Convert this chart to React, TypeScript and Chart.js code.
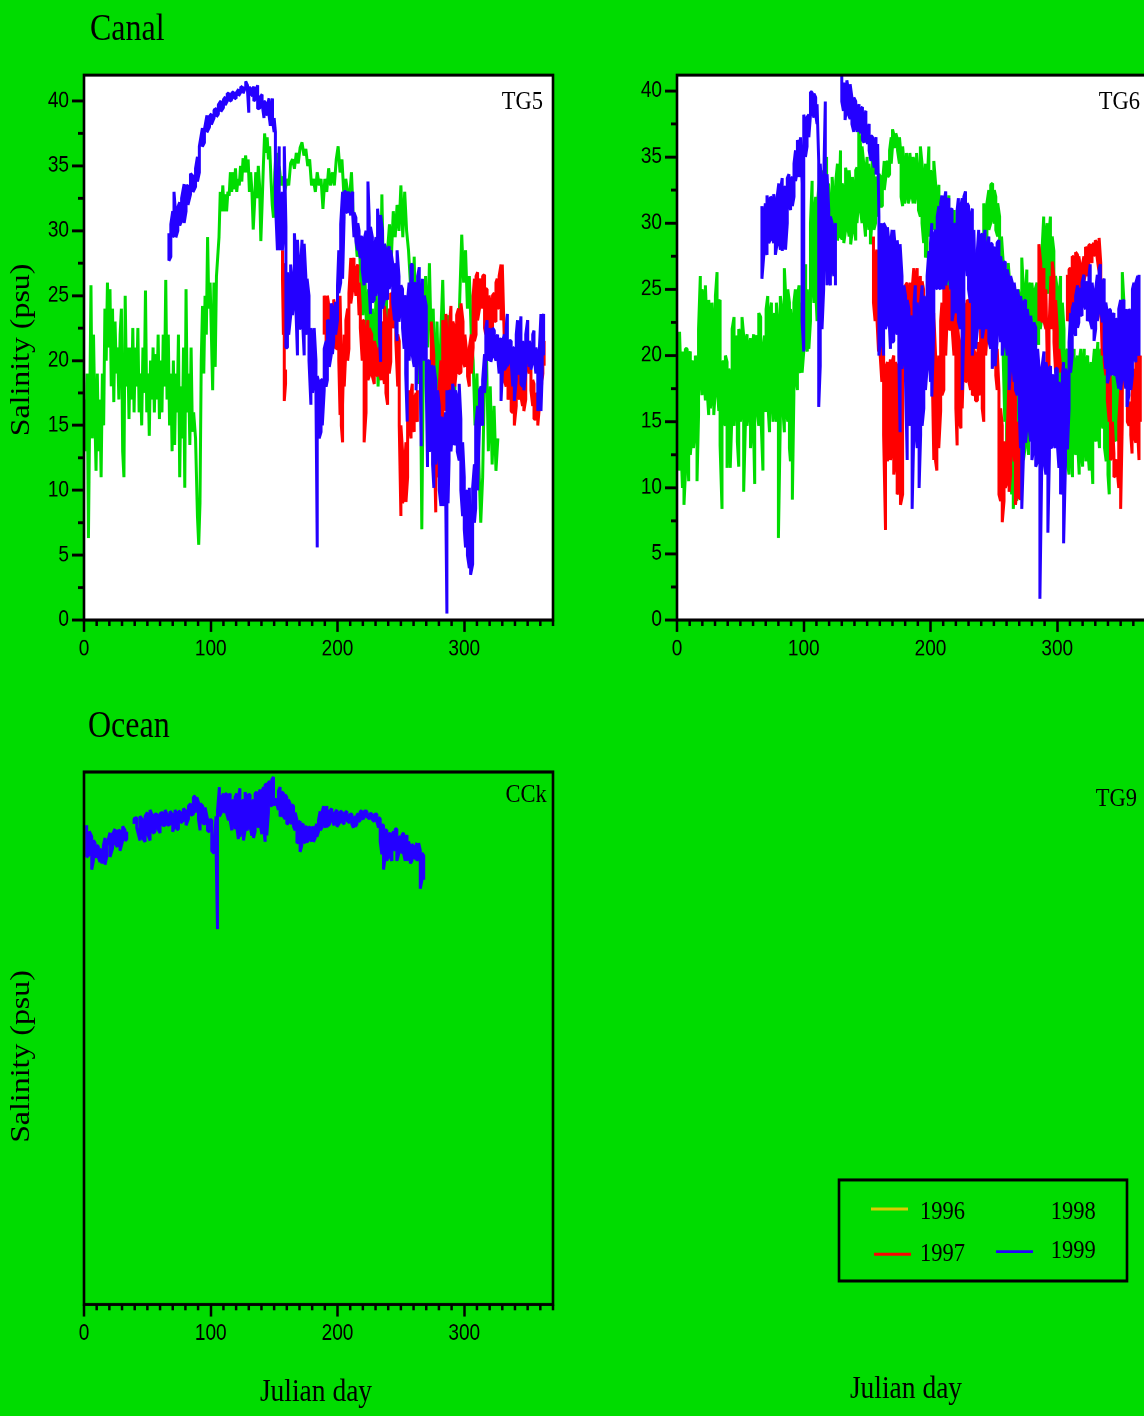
import React, { useEffect, useRef } from 'react';
import { Chart, registerables } from 'chart.js';

Chart.register(...registerables);

// whole figure is stretched vertically in the reference
const SY = 1.16;
const PAGE_GREEN = '#00dc00';
const C1996 = '#dccc00';
const C1997 = '#ff0000';
const C1998 = '#00dc00';
const C1999 = '#2400ff';

// axes
const xTickValues = [0, 100, 200, 300];
const yTickValues = [0, 5, 10, 15, 20, 25, 30, 35, 40];
const yMinorValues = [2.5, 7.5, 12.5, 17.5, 22.5, 27.5, 32.5, 37.5];
const xMax = 370;
const tg5YMax = 42;
const tg6YMax = 41.2;
const cckYMax = 42;

// legend
const legendYears = ['1996', '1997', '1998', '1999'];

// ---------- TG5 ----------
const tg5Days1998 = [
  0.5,1.5,2.5,3.5,4.5,5.5,6.5,7.5,8.5,9.5,10.5,11.5,12.5,13.5,14.5,15.5,16.5,17.5,18.5,19.5,
  20.5,21.5,22.5,23.5,24.5,25.5,26.5,27.5,28.5,29.5,30.5,31.5,32.5,33.5,34.5,35.5,36.5,37.5,38.5,39.5,
  40.5,41.5,42.5,43.5,44.5,45.5,46.5,47.5,48.5,49.5,50.5,51.5,52.5,53.5,54.5,55.5,56.5,57.5,58.5,59.5,
  60.5,61.5,62.5,63.5,64.5,65.5,66.5,67.5,68.5,69.5,70.5,71.5,72.5,73.5,74.5,75.5,76.5,77.5,78.5,79.5,
  80.5,81.5,82.5,83.5,84.5,85.5,86.5,
  88,89.5,90.5,91.5,92.5,93.5,94.5,95.5,96.5,97.5,98.5,99.5,100.5,101.5,102.5,103.5,104.5,105.5,106.5,107.5,
  108.5,109.5,110.5,111.5,112.5,113.5,114.5,115.5,116.5,117.5,118.5,119.5,120.5,121.5,122.5,123.5,124.5,125.5,126.5,127.5,
  128.5,129.5,130.5,131.5,132.5,133.5,134.5,135.5,136.5,137.5,138.5,139.5,140.5,141.5,142.5,143.5,144.5,145.5,146.5,147.5,
  148.5,149.5,150.5,151.5,152.5,154,155.5,157,158.5,160,161.5,163,164.5,166,167.5,169,170.5,172,173.5,175,
  176.5,178,179.5,181,182.5,184,185.5,187,188.5,190,191.5,193,194.5,196,197.5,199,200.5,202,203.5,205,
  206.5,208,209.5,211,212.5,214,215.5,217,218.5,220,221.5,223,224.5,226,227.5,229,230.5,232,233.5,235,
  236.5,238,239.5,241,242.5,244,245.5,247,248.5,250,251.5,253,254.5,256,257.5,259,260.5,262,263.5,265,
  266.5,268,269.5,271,272.5,274,275.5,277,278.5,280,281.5,283,284.5,286,287.5,289,290.5,292,293.5,295,
  296.5,298,299.5,301,302.5,304,305.5,307,308.5,310,311.5,313,314.5,316,317.5,319,320.5,322,323.5,325,
  326.5,
];
const tg5Sal1998 = [
  17,13,19,6.3,16,25.8,14,22,16,11.5,19,13,17,11,19,15,24,20,26,21,
  25.5,18,24,16.8,23,19,21,17,22,24,13,11,25,18,21,15.5,21,17,22.5,16,
  21,18,22.5,16,19,15,21,17.5,25.4,16,19,14.2,20,17,21,16,20.5,17,22,15.5,
  20,16,22,18,26.2,17,22,15,19,13,20,13.5,19,16,22,11,18,14,21,10.2,
  25.5,16,19,13.5,21,14.5,16,
  14,8,5.8,9,20,24.2,19,25,22,29.5,24,26,22,17.7,26,19.5,26.5,28,29.5,33,
  31.5,33.5,31.5,32.8,31.5,33,32.7,34.5,33,34.5,33.2,34.8,33,34,33.5,35,33.8,35.6,34.5,35.8,
  34.5,35.5,33,34.5,33,30.1,32,34.5,32.5,35,33.5,29.2,32,35,37.5,36,37.2,35.5,36.5,34,
  32,31,34.5,36,33,35,33.5,34.2,33,34,33.5,35.2,35.5,34.8,36,35.2,36.4,36.8,35.8,36.3,
  35,35.5,33.5,34,33,34.5,33.5,34,31.7,34,33,34.8,33.5,34.5,33.5,35.5,36.5,34.5,35.5,32.8,
  34,33,32.5,34.5,31,30,28,29.5,26,23.5,27,22,25.5,18.8,24,20,25.5,18,22,32.8,
  25,21,28.5,30.5,28,31.5,29.5,32,30,33.5,29.5,33,30,28.5,26,22,28,20,18.2,24,
  7,23,26.5,21,27.5,21,24,17,23,16.5,22,26.2,20,16.5,23.5,18,21,15,22,20,
  25,29.7,26,28.5,24,26.5,22,20,15,19,12,7.5,11,19,20.5,13,18,12,16.5,11.5,
  14,
];

const tg5Days1999 = [
  67,68.5,70,71,72.5,74,75.5,77,79,80.5,82,84,86,88,89.5,91,93.4,95,97,99,
  100.5,102.6,104.5,106,108,110,111.5,113,115,116.5,118,120,122,123.7,125.5,127.6,129,130,131.5,133,
  134,135.5,137,139,140.5,142,143.5,145,146,147,148.7,150,151,152.6,154,155,156.5,158,159.3,160.5,
  161.5,163,164.5,166,167,168.4,170,171,172,173.7,175,176,177.5,179,180.3,181.6,183,184,185.5,187,
  188,189.5,191,192,193.5,195,196,197,198.5,200,201,202.5,204,205.2,206.6,208,209,210.5,212,213,
  214.5,216,217,218,219.5,221,222.5,224,225,226,227.5,229,230.3,231.6,233,234,235.5,237,238.2,239.5,
  240.8,242,243.5,245,246,247,248.5,250,251.3,252.6,253.8,255,256.5,258,259,260.5,262,263.2,264.5,266,
  267,268.5,270,271,272.5,274,275,276,277.5,279,280.3,281.6,283,284,285.3,286.3,287.2,288,289.5,290.8,
  292,293,294.5,296,297.3,298.7,300,301,302.5,304,305,306.6,308,309,310.5,312,313.3,314.5,316,317,
  318,319.5,321,322.3,323.7,325,326.3,327.5,329,330.3,331.6,333,334,335.5,337,338.3,339.5,341,342,343.5,
  344.7,346,347,348.5,350,351.3,352.6,354,355,356.5,358,359.3,360.5,361.5,362.6,
];
const tg5High1999 = [
  29.8,30.5,31.5,33.0,31,31.8,32.2,32.5,33.6,33.4,33.5,34.4,34.2,34.8,35.7,36.5,37.9,37.8,38.9,38.8,
  39.0,39.3,39.4,39.7,40.0,40.1,40.3,40.6,40.5,40.6,40.7,40.6,40.9,41.1,41.0,41.5,41.2,41.0,41.0,40.9,
  41.1,40.8,41.2,40.3,40.5,40.0,39.8,39.8,40.2,38.9,40.2,38.7,37.6,32.2,36.5,31.2,33,36.5,30.3,26.8,
  25.5,27.4,26,29.8,28,29.3,26,27.4,29.3,29.0,26.5,26.3,25,22.5,21.5,22.5,20,18.8,18.2,18.5,
  18.5,20.9,21.5,23.1,23,24.4,24,23.6,24.5,25.8,28.5,30.5,33.0,33.0,33.0,32.8,33.0,32.6,33.0,31.4,
  31,30.6,30,29.5,29.5,29.3,30,33.8,31,30.3,29.5,28.5,29.5,31.7,30,31.2,30,29.0,28.5,28.5,
  28.8,28.5,27.5,26.8,27.5,28.5,26.5,25.8,25.5,24.7,25,24.4,26,27.4,27.4,26,25.8,26.5,27.2,23.1,
  26.3,25,24.2,19.9,20,19.6,19.5,19.6,18.5,17.7,16.5,15.6,15.5,15.0,16,17.7,15,17.7,17.5,18.2,
  17.5,17.7,17,18.2,15.5,13.7,11,9.6,10,10.2,4.3,10.2,12,15.0,16.5,17.7,18,18.5,20.5,22.5,
  23.1,22.5,22.0,22.5,22.3,21.5,22,21.5,21.7,21.5,22.0,22.5,23.6,21.5,21.5,21,20.9,22,23.1,22,
  23.4,21.5,20.9,22,23.1,21.5,20.9,22,22.3,21,20.4,21,23.6,23,23.6,
];
const tg5Low1999 = [
  27.7,28,29.5,29.8,29.5,30,30.4,30.8,30.6,31.5,32,32.8,33,33.4,33.8,34.5,36.5,36.8,37.6,38,
  38.2,38.7,38.8,39,39.2,39.5,39.7,40.0,40.0,40.1,40.3,40.2,40.4,40.7,40.6,41.1,40.8,39.1,40.6,40.4,
  40.0,40.2,39.4,39.5,39.8,38.7,38.9,39.2,38.9,38.1,38.5,37.6,32.2,28.5,30.6,28.5,28.5,30.3,21.0,21.0,
  22,23.4,23.5,25.2,24.5,20.4,22.5,22.5,24,20.4,22,22.5,20,16.6,17.5,18.5,17.2,5.6,14,14.5,
  15.0,17.7,18,18.5,19.5,20.4,20.5,21.5,22,23.1,25.2,26,26.3,31,31.4,31.5,31.7,31.2,31.2,29.5,
  29.2,28.5,28.5,27.9,27,25.8,26,26.8,25.5,23.6,24.5,24.7,25,25.8,22,19.9,24,24.7,25,24.7,
  25.5,26.3,24.5,23.1,22.5,21.5,23,24.2,22.5,20.9,19,15.3,20,23.1,20.4,19.5,17.7,21,24.4,13.4,
  23.1,20,18.2,11.8,13,13.4,12,10.2,12,13.4,10,8.8,9.5,8.8,10,0.5,9,12.3,13,14.8,
  13.5,13.7,13,12.3,10,8.0,7,5.6,5,4.0,3.5,4.3,7.5,8.6,10,15.0,15.5,15.0,17.5,18.8,
  20.9,20,19.9,20.5,20.4,20,20.4,19,16.9,19.5,19.3,19.5,19.6,20,19.9,18,16.9,18.5,19.1,19,
  18.2,18,17.7,19,20.4,19.5,19.3,20,20.4,19,16.1,17,16.1,19,20.4,
];

const tg5Days1997 = [
  156.6,157.3,158,159,175,189.5,191,192,193.5,195,196,197,198.5,200,201,202,203,204,205.3,206.6,
  208,209,210.5,212,213,214.5,216,217,218,219.5,221,222.5,224,225,227,229,230.3,231.6,233,234.5,
  236,237,238.2,239.5,240.8,242,243.5,245,246,247.5,248.7,250,251.3,252.6,254,255.3,256.6,258,259,260.5,
  262,263,268,274,276,277.5,278.5,280,281.5,283,284.3,285.5,287,288.5,289.5,291,292.5,294,295.5,297.4,
  299,300.5,302.6,304,305.5,307,308,309.3,310.5,312,313,314.5,316,317,318,319.5,321,322.3,323.7,325,
  326,327.5,329,330,331.6,333,334.5,336,337,338.3,339.5,341,342,343.5,344.7,346,347,348.5,350,351.3,
  352.6,354,355,356.5,358,359.3,360.5,362,363,
];
const tg5High1997 = [
  28.5,27.5,26.3,19.3,null,25.0,24,25.0,24,23.1,24,24.7,24,25.0,24.5,25.0,20,16.6,22,23.1,
  24,25.2,27.9,27.5,27.9,27,27.4,26,24.2,23,23.1,22,23.1,22.5,22,21.5,21,20.4,21,22,
  23,24.2,23,22.0,24,25.2,25,25.2,24.7,22,21.5,15.0,13,11.2,13.7,15.5,17.7,17.5,18.2,17,
  17.5,17.7,null,23,20.4,10.2,16,17.7,20,23.1,22,23.6,21,23,24.2,23,22.5,23.5,24,24.4,
  23,22,19.9,21,22,25,26.3,26.5,26.8,26,26.3,26.5,26.6,25.5,25.5,25,24.2,25,25.2,26,
  26.3,26.5,27.4,27.4,21.5,21,20.5,21,20.4,18,16.9,19,20.4,20,19.9,19,18.2,20,23.1,21.5,
  19.9,18.5,18.2,17.5,17.2,18.5,20.4,21,21.5,
];
const tg5Low1997 = [
  26.3,22,16.9,18.2,null,22.0,21.5,21.5,21,20.9,22,22.5,21,20.9,20,15.8,15,13.7,18,20.9,
  20,20.9,24.4,25.5,26.3,25,26,23.5,22.5,20,13.7,16,18.5,18.8,19,18.2,19,18.8,19,18.5,
  19,18.2,17.5,16.6,19,19.9,22.5,23.1,21.5,18,15.0,8.0,9,9.6,9.1,11,15.0,14,15.0,14.5,
  15.5,15.3,null,17,15.0,8.3,11,12.3,15,15.0,17,16.1,17.5,19,17.7,18.5,18,19.5,19,19.1,
  20,19.5,18.8,18,19,21,21.5,22,23.1,24,25.2,24,22.5,22,21.5,21,20.4,22,23.1,23,
  24.2,24,23.1,25,18.5,18,17,17.5,16.1,16,15.0,16.5,17.7,17,17.2,16.5,16.1,17,19.6,19,
  17.7,16.5,15.5,15.5,15.0,16.5,17.7,19,19.6,
];

// ---------- TG6 ----------
const tg6Days1998 = [
  1.0,2.0,3.2,4.3,5.5,6.6,8,9.2,10.5,11.8,13,14.5,15.8,17,18.4,19.7,21,22.4,23.7,25,
  26.3,27.6,29,30.3,31.6,33,34,35.5,37,38.2,39.5,40.8,42,43.5,45,46.3,47.6,48.7,50,51.3,
  52.6,54,55.3,56.6,58,59.2,60.5,61.3,63,64.5,66,67.8,69,70.3,71.6,73,74.5,75.8,77,78.4,
  80,81.5,82.8,84.7,86,87.4,88.7,89.5,91,92.2,93.4,95,96.3,97.5,98.7,100,101.5,102.8,104,105.3,
  106.6,108,109.4,110.5,112,113.4,115,116.5,118,119.5,121,122.4,124,125.3,126.6,128,129,130.3,131.6,133,
  134.3,135.8,137,138.4,139.7,141,142,143.4,144.7,146,147.3,148.7,150,151.3,152.6,154,155.3,156.6,158,159.3,
  160.6,162,163.5,165,166.3,167.7,169,170,171.3,172.6,174,175.5,176.8,178,179.5,181,182.4,183.7,185,186.3,
  187.6,189,190.5,192,193.3,194.6,196,197.3,198.7,200,201.3,202.6,204,205.3,206.6,208,209.2,210.5,212,213.3,
  214.5,216,217.3,218.5,220,221.3,232,242,243.5,244.5,246,247.5,249,250.3,251.5,253,254.5,256,257.3,258.6,
  260,261.3,262.6,264,265.3,266.6,268,269.3,270.6,272,273.3,274.6,276,277.3,278.6,280,281.3,282.6,284,285.3,
  286.6,288,289.3,290.6,292,293.3,294.6,296,297.3,298.6,300,301.3,302.6,304,305.3,306.6,308,309.3,310.6,312,
  313.3,314.6,316,317.3,318.6,320,321.3,322.6,324,325.3,326.6,328,329.3,330.6,332,333.3,334.6,336,337.3,338.6,
  340,341,342.3,343.6,345,346.3,347.6,349,350.3,351.3,352.6,
];
const tg6High1998 = [
  18.2,21.8,18,20.3,19,20.5,20.5,20,20.3,19.5,19.5,20,18.5,22,26,25,24.5,25.3,22,24.2,
  22.5,24,22,24.5,26.3,24,24.2,19.5,19.5,20,19.5,19,18.5,22,22.9,21.5,20.5,22,21.5,22.9,
  21.5,21,21.6,20.5,21.3,20.5,21.6,21,21.5,23.2,22.9,20.5,21.5,23.5,24.5,23,24,22.5,23.2,24,
  22,24.5,23.5,26.6,24,25,24,23.5,22,24,25,24.5,25.3,24,20,25,26.9,25,23,30,
  33.2,30.5,32,31,33,31,34,32.5,35,33,31,33.5,31.3,33.2,34.5,32,35.5,33,32.5,34.2,
  33.5,34,32.5,33.5,32,34,34.2,37.0,36,35.8,34.5,33.5,35,34.5,33,34.8,33.5,33.5,33,33.7,
  33.5,32.9,34.7,34.7,34.5,35.5,36.5,37.1,36.6,36.8,36.3,36.5,35,35.8,34,35.3,34,35.3,34,35,
  34.5,35.3,33.5,35.8,34.5,33,34.5,33,35.8,34,33.5,34.7,33,32,32.9,31.5,31.9,30.5,30,31,
  32.1,30,29,31,27,26,null,31.5,30,31.5,32.5,32.9,33.0,32.5,32,31.5,30.5,29,27.1,26,
  24,27,25.3,24,25,23,24.5,25,24,27.4,25,24,26.5,25,25.5,25.5,24,25,25.5,24.5,
  25,28,30.5,29,30,29,30.5,29,27.9,26,25,24,26,24,22,20,20.5,19.5,20,19,
  20.5,19,20,19.5,20.5,19,20.5,19.5,20,18.5,19.5,19,20.5,19,21,20,20.5,19,21,20,
  19,15,18.7,18,18.5,17.5,18.7,18,17,26.3,24,
];
const tg6Low1998 = [
  15,11.3,13,10,8.7,11,14,10.5,12.5,14,13,14.5,10.5,15.5,18.7,17,19,16.6,17.5,15.5,
  16,17,15.5,17.5,17.9,15.8,13.2,8.4,15,14.7,11.5,15.5,11.5,16,14.7,17,13.5,11.6,15,16,
  9.7,15,14.7,16,13,15,14,10.3,16,14.7,16,11.3,16,15.8,16.5,14.2,17,15,16.5,15,
  6.2,15,17,14.2,16,15,13,12,9.1,17,18.5,17.4,19,18.7,18.7,20.3,21,20.3,20.5,22.6,
  26,24,25,22.6,27,25.3,27.4,28.5,27,29.5,26,28.7,28.5,29,28.7,29.8,29,28.8,28.5,29.5,
  30,29,28.4,29.5,30,28.7,30,32,31,30,30.5,29,31,29.5,28.4,30.5,29.5,30,30.5,31.5,
  31.3,31.3,32.5,33.7,33.5,33.7,34.5,35.8,35.8,35.8,35.5,34.5,32,31.3,31.5,32.4,31.5,32,32.4,31.5,
  31.5,32.4,31,30.5,30,28.5,27.4,28,29,30.5,30,29.5,29,28,27.4,27.9,28.5,27.9,26,25,
  24,23,22.6,22.6,23,22.5,null,28.4,28.5,29,29.5,30,30.5,30,29.5,29,28.4,27,20,15,
  12,10.3,12,9.5,8.4,11,9,12,10,14,12.1,13,15,12.5,14,21,20.8,21.5,22,20.8,
  22,23,24.7,24,25,24.7,25,24.7,22,20,16,14.7,18,15,14.7,15,12,11,14,10.8,
  13,12.5,13.5,11,13,11.6,14,12,13,11.3,13.5,10.3,14,13.5,15,13,15,14.5,13,12,
  11,9.5,13.4,14,13.5,14,13.5,14.5,13.4,18,19,
];

const tg6Days1999 = [
  67,68.4,69.7,71,72.4,73.7,75,76.3,77.6,79,80.3,81.6,83,84.3,85.6,87,88.3,89.6,91,92.3,
  93.5,95,96.2,97.4,98.7,100,101.3,102.6,104,105.3,106.6,108,109.4,110.5,111.8,113,114.4,115.7,117,118.4,
  119.7,121,122.4,123.7,125,127.5,130,131.3,132.6,134,135.3,136.6,138,139.5,141,142.3,143.6,145,146.3,147.6,
  149,150.3,151.6,153,154.3,155.6,157,158.3,159.3,160.5,161.8,163,164.5,166,167.2,168.4,169.7,171,172.3,173.7,
  175,176,177.5,179,180.3,181.6,183,184,185.5,187,188,189.5,191,192.2,193.4,194.7,196,197.3,198.7,200,
  201,202.6,204,205.3,206.6,208,209,210.5,212,213.3,214.5,216,217,218.5,219.7,221,222,223.5,225,226.3,
  227.6,229,230,231.5,233,234.2,235.5,237,238,239.5,240.8,242,243,244.5,246,247.5,248.7,250,251,252.5,
  254,255.3,256.6,258,259,260.5,262,263.2,264.5,266,267,268.5,270,271,272,273.5,275,276.3,277.6,279,
  280,281.5,283,284.5,286.3,287.8,289.5,291,292.6,293.8,294.7,296,297.4,298.7,300,301.3,302.6,304,305,306.5,
  308,309.3,310.5,311.8,313,314.5,316,317,318,319.5,321,322.3,323.7,325,326,327.5,329,330.3,331.6,333,
  334,335.5,337,338.3,339.5,341,342,343.5,344.7,346,347,348.5,350,351.3,352.6,354,355,356.5,358,359.3,
  360.5,362,363.5,364.5,
];
const tg6High1999 = [
  31.3,30,31.5,32.1,31,32,31.8,32.2,31,32,33,32.5,33.4,32.5,32.8,33.4,33.7,33.2,33.5,34.5,
  35.5,36.3,35.8,36.5,33,38.2,37.5,38,38.2,39.9,39.9,39.8,39.5,39,34.7,34.5,32,33,39.2,33.7,
  31,30.5,30,29,30,null,41.1,40.5,40.5,40.8,40,40.5,39.5,39.5,39.2,38.5,39,38.5,38.8,38,
  38.5,37,37.5,36.6,36.5,36,36.5,36,30.5,30,29,30,29.7,29.7,28.5,28.4,29.5,29.5,28,28.7,
  27.5,28.4,26,25.3,24.5,24.2,23.5,22.6,23,24,25.3,24,22.6,24,25.3,24.5,24,26,27.9,28.5,
  30,29,29.5,30.5,31.3,31.5,32.1,31.5,32.4,31.5,31.9,31,31.1,30,29.7,31,31.9,31,31.9,32,
  32.4,31.5,31.3,30.5,31.1,29.5,24.2,28,29.5,29,29.2,28.8,29.5,28,29,28.5,28.4,28,28.2,28.5,
  28.7,27.5,26.6,27,27.1,26.5,25.8,26,25.5,25.5,24.7,25,24.2,24.5,23.9,24,24.2,23.5,22.6,23,
  22.1,22.5,22.1,20.5,18.2,19,20.3,19.5,18.7,19,19.2,18.5,18.4,19,19,18,17.4,18.5,19.5,19,
  18.4,21,23.2,23.5,24,24.5,25.3,25,25,25.5,26.1,25.5,25.5,26,26.9,25.5,24,25,26.1,26.5,
  26.9,25.5,25.8,24,23.2,23.5,23.4,23,23.2,22.8,22.6,23.5,24.2,24,24.2,23.5,22.6,23.5,23.2,25,
  25.5,25.5,26,26.1,
];
const tg6Low1999 = [
  25.8,27.5,28,27.6,28.5,28.8,29,28.5,27.6,28.5,28.8,28,27.9,29,28,30,31.5,31,31.3,32,
  33.2,34,33.5,34.5,22.6,20.3,35,35.8,36.5,38.2,38.5,38,38.2,37.5,16.1,19.2,22,25,30,25.3,
  26,25.3,27,26,25.3,null,39.2,38.5,37.8,39,38.2,37.9,37.5,36.9,37.5,36.9,37.3,36.8,36.3,36.1,
  36.5,36,35.5,34.7,35,34.2,33.7,34,20,21,22,20,22,22.6,23,20.5,21,21.1,22,21.6,
  20,14.2,19,20,18,12.1,16,14.7,8.4,15,14.7,13,10,14,14.7,16,17.4,19,21.1,18,
  16.9,22,25.3,25,25.3,25,25.8,25,25.3,26,26.3,25,22.6,23.5,23.2,24,22.6,22,17.4,22,
  27.9,26,25,24,20,22,20.5,22,22.6,22,21.3,22,22.6,22,21.1,20.5,19,20,19.2,21,
  22.6,21,20,21,21.6,20,17.4,19,20,18,17.4,17,15.8,13,8.4,13,13.4,15,14.7,13.5,
  12.1,13,11.6,12,1.6,12,12.1,11,6.6,12.5,13.2,13,13.7,13,13.4,11.5,9.5,11,5.8,12,
  12.9,16,18.7,20,22.1,21.5,22.1,22.5,23.2,23,24,23.5,22.6,23,22.6,22,21.1,22,22.6,23.5,
  24,22.5,20.5,19,17.9,18.5,19.2,18.5,18.7,18.5,18.4,17.5,17.4,18.5,18.7,17.5,16.1,17,17.4,18.5,
  20,19.5,20.3,20,
];

const tg6Days1997 = [
  155,156.3,157.6,159,160.3,161.6,163,164.5,166,167.3,168.4,169.7,171,172.3,173.7,175,176.3,178,179.2,180.3,
  181.6,183,184.2,185.5,186.8,188,189.5,190.8,192,193.4,194.5,198,201.5,202.6,204,205,206.5,208,209,210.5,
  212,213,214.5,216,217,218.5,220,221,222.5,224,225,226,227.5,229,230.3,231.6,233,234,235.5,237,
  238.2,239.5,240.8,242,243.5,245,246.3,247.5,249,250,251.5,252.6,254,255.3,256.6,258,259,260.5,262,263.2,
  264.5,266,267,268.5,270,271,278,285.5,287,288.2,289.5,291,292,293.5,295,296,297.4,298.7,300,301.3,
  302.6,305,308,309.3,310.5,311.8,313,314.5,316,317,318.5,320,321,322.3,323.5,324.8,326,327.4,328.7,330,
  331.3,333,334.3,335.5,337,338.3,339.5,341,342,343.5,344.7,346,347,348.5,350,351.3,352.6,354,355.3,356.6,
  358,359,360.3,362,363.3,364.5,365.5,
];
const tg6High1997 = [
  29,27,28,25.3,24,21,20,19,19.5,19,19.7,19.5,20,19.5,19,18.5,19.5,18,24,25.3,
  25.5,24.5,25.5,25,26.6,25.5,26.6,25,26,25.6,25,null,23.2,23.2,20,17.4,20,22.6,24,25.5,
  25.5,25.3,24.5,24.7,25.3,24,23,22.6,21,18.7,22,24.2,23.5,24.2,24,24.2,22,20.5,20,20,
  21,22.6,21,22.6,25,26.3,25.5,25.3,22,20.5,21,20.5,17.4,16,14.7,13.5,12.6,14,18.4,19,
  20.3,17,17.4,15,12,12.1,null,28.4,27,26,26.6,25,20.0,22,26,27.1,26,24.2,22,20.5,
  19.2,null,26.1,26.5,26.6,27.5,27.4,27.8,27.6,27.5,26.5,26.9,27.5,28.2,28,28.3,28.4,28.2,28.5,28.7,
  28.5,28.9,27,25.3,24,23.5,23.2,20,17.4,15,12.6,12,12.1,15,17.4,20,22.6,21.5,18,15.8,
  16.5,16.8,19,19.5,20,19.5,20,
];
const tg6Low1997 = [
  24,22.6,23,20.3,20,18,14,6.8,12,13.5,12.1,13,11,12,9.5,10,8.7,9.5,18,22,
  23.2,22,23,22.5,24,22.6,24.5,22.9,23.5,21.6,21.3,null,18,12.1,12,11.3,13,15.8,17,17.4,
  20,22.6,22,22,22.1,20,16,13.2,15,14.5,16,19.5,18,18.2,18,17.4,17,17.1,16.6,16.6,
  17,17.4,16,15.0,20,22.1,22,21.9,20,19.8,18.5,17.4,9.5,9,7.4,9,10,10.5,9.7,11,
  13.4,12,8.7,10,9.2,9.2,null,22.6,23,22.5,22.6,22,17.4,18.5,22,23.7,21,18.7,19.5,19,
  18.7,null,22.6,23,22.9,24,24,23.5,23.4,25,24.7,25.3,25.5,26.3,26,26.5,27.4,27,27.5,27.9,
  27.5,26.3,24,20.0,19.5,18.5,16.6,15,12.1,12.5,10.8,11,11.6,10,8.4,15,18.7,19,15,14.7,
  14,12.6,14,13.4,14.5,12.1,15,
];

// ---------- CCk (ocean) ----------
const cckDays1999 = [
  2.1,4.2,6.1,7.4,8.7,10,11.3,12.6,14,15.3,16.6,17.9,20.5,22.6,24.5,26.3,28.4,30.5,32.4,33.7,
  36,39.5,41.6,44.2,46.3,48.2,50,52.1,54.2,56,57.9,60,62.1,64,65.8,67.9,70,71.8,73.2,74.5,
  76.3,78.4,80.5,82.4,84.2,86.3,87.6,89,90.3,91.6,93.7,95.5,97.4,99,100.8,102.6,104.2,105.3,106.8,108.7,
  110,111.3,112.6,114,115.3,116.6,117.9,119.2,120.5,121.8,123,124.5,125.8,127.1,128.4,129.7,131,132.4,133.7,135,
  136.3,137.6,139,140.3,141.6,142.9,144.2,145.5,146.8,148.2,149.5,150.8,152,153.4,154.7,156,157.4,158.7,160,161.3,
  162.6,164,165.3,166.6,168,169.2,170.5,171.8,173,174.5,175.8,177.1,178.4,179.7,181,182.4,183.7,185,186.3,187.6,
  189,190.3,191.6,193.7,195.5,197.4,199.5,201.6,203.4,205.3,207.4,209.5,211.3,212.6,214,215.3,216.6,217.9,219.2,221,
  223.2,225.3,227.1,229,231,232.4,233.7,235,236.3,237.6,238.9,240.3,241.6,242.9,244.2,245.5,246.8,248.2,249.5,250.8,
  252.1,253.4,254.8,256,257.4,258.7,260,261.3,262.6,264,265.3,266.6,268,
];
const cckHigh1999 = [
  37.8,37.3,36.9,36.6,36.4,36.2,36.1,35.9,35.8,36.2,36.8,36.2,37.2,37.1,37.5,37.3,37.4,37.7,37.4,37.3,
  null,38.3,38.4,38.5,38.2,38.5,38.8,39.0,38.5,38.7,38.6,38.7,38.8,39.0,38.6,38.9,38.6,39.0,38.7,38.9,
  38.8,39.1,38.9,39.3,39.5,40.0,40.1,40.0,39.6,39.5,39.3,39.2,38.3,38.2,38.2,36.1,38.5,38.9,40.8,40,
  40.3,40.2,40.3,40.0,40.3,39.5,39.8,40.0,40.3,40.0,40.7,39.6,39.8,40.4,40.0,40.2,40.2,39.5,39.8,40.3,
  40.4,40.3,40.6,40.4,40.8,41.0,41.0,41.2,41.2,41.4,41.6,39.8,39.8,40.5,40.8,40.4,40.3,40.2,40.0,39.8,
  39.5,39.4,39.3,38.8,38.2,38.0,38.1,37.8,37.9,37.6,37.7,37.5,37.7,37.4,37.7,37.6,37.9,38.2,38.9,38.7,
  39.3,38.8,39.3,38.9,39.1,38.7,39.0,38.8,38.9,38.7,38.9,38.6,38.7,38.2,38.5,38.6,38.7,38.9,38.9,38.9,
  38.9,38.7,38.7,38.6,38.7,38.4,38.3,37.8,37.8,37.4,37.4,37.0,37.2,37.0,37.3,37.5,37.5,36.8,36.9,37.0,
  37.2,36.8,37.0,36.5,36.1,36.3,36.1,36.0,36.4,36.4,35.8,35.6,35.4,
];
const cckLow1999 = [
  35.3,35.5,34.3,35,35.3,35.4,35.3,34.9,34.8,35.2,34.7,35.3,35.3,36,36.4,36.1,35.8,36.6,36.6,36.7,
  null,37.9,37.6,36.6,36.8,36.5,37.2,36.6,37.2,37.3,37.6,37.2,37.8,37.8,37.8,37.9,37.3,37.9,37.5,37.5,
  38,38.2,37.8,38.3,38.6,38.7,38.8,39.3,38.3,37.4,38,37.9,37.4,37.3,35.8,35.6,36.0,29.6,38.5,38.9,
  39.0,38.8,38.7,38.2,38.2,37.4,38.5,37.5,37.7,36.7,36.9,37.5,36.6,37.4,37.4,37.7,37.7,37.0,36.8,37.3,
  38.5,37.6,37.9,37.1,37.7,36.5,37.0,38.8,39.5,39.3,39.5,39.4,39.5,39.0,38.5,38.7,38.5,38.3,37.9,38,
  38.2,37.9,37.7,37.4,36.4,36.5,35.7,36.2,36.6,36.4,36.5,36.6,36.9,36.5,36.5,36.8,36.9,37.3,37.4,37.6,
  38.2,37.6,37.7,37.9,38.2,37.8,37.7,38.0,38.1,37.9,38.2,38,37.9,37.6,37.7,37.9,38.1,38.2,38.3,38.4,
  38.5,38.3,38.3,38.1,38.1,37.6,36.5,35.5,34.3,35.3,35.0,35.5,35.3,35.0,36.1,35.8,35.0,35.5,36.1,35.6,
  35.6,35.0,35.0,35.4,34.8,35.0,35.3,35.2,35.0,35.3,32.8,33.5,33.5,
];

type Pt = { x: number; y: number | null };

function seriesFromValues(days: number[], vals: number[]): Pt[] {
  const pts: Pt[] = [];
  for (let i = 0; i < days.length && i < vals.length; i++) pts.push({ x: days[i], y: vals[i] });
  return pts;
}

// each reading holds the day's high and low; the line runs through both
function seriesFromRange(days: number[], hi: (number | null)[], lo: (number | null)[]): Pt[] {
  const pts: Pt[] = [];
  const n = Math.min(days.length, hi.length, lo.length);
  for (let i = 0; i < n; i++) {
    const h = hi[i];
    const l = lo[i];
    if (h === null || l === null) {
      pts.push({ x: days[i], y: null });
      continue;
    }
    if (i % 2 === 0) {
      pts.push({ x: days[i], y: h });
      pts.push({ x: days[i], y: l });
    } else {
      pts.push({ x: days[i], y: l });
      pts.push({ x: days[i], y: h });
    }
  }
  return pts;
}

const xMinorValues: number[] = [];
for (let v = 10; v <= xMax; v += 10) if (v % 100 !== 0) xMinorValues.push(v);

function makeFramePlugin(cfg: { fill: string | null; showY: boolean }) {
  return {
    id: 'frame',
    beforeDraw(chart: any) {
      if (!cfg.fill) return;
      const { ctx, chartArea: a } = chart;
      ctx.save();
      ctx.fillStyle = cfg.fill;
      ctx.fillRect(a.left, a.top, a.right - a.left, a.bottom - a.top);
      ctx.restore();
    },
    afterDraw(chart: any) {
      const { ctx, chartArea: a, scales } = chart;
      ctx.save();
      ctx.strokeStyle = '#000';
      ctx.lineCap = 'butt';
      ctx.lineWidth = 2.5;
      ctx.beginPath();
      for (const v of xMinorValues) {
        const px = scales.x.getPixelForValue(v);
        ctx.moveTo(px, a.bottom);
        ctx.lineTo(px, a.bottom + 5);
      }
      if (cfg.showY) {
        for (const v of yMinorValues) {
          const py = scales.y.getPixelForValue(v);
          if (py < a.top) continue;
          ctx.moveTo(a.left - 6, py);
          ctx.lineTo(a.left, py);
        }
      }
      ctx.stroke();
      ctx.lineWidth = 2.6;
      ctx.strokeRect(a.left, a.top, a.right - a.left, a.bottom - a.top);
      ctx.restore();
    },
  };
}

interface PanelProps {
  left: number;
  top: number;
  width: number;
  height: number;
  area: { L: number; T: number; R: number; B: number };
  yMax: number;
  showY: boolean;
  fill: string | null;
  lines: { data: Pt[]; color: string }[];
}

const X_AXIS_H = 50;
const tickFont = { family: 'Liberation Sans, Arial, sans-serif', size: 19 };

function Panel(p: PanelProps) {
  const ref = useRef<HTMLCanvasElement>(null);
  useEffect(() => {
    const canvas = ref.current;
    if (!canvas) return;
    const chart = new Chart(canvas, {
      type: 'line',
      data: {
        datasets: p.lines.map((l) => ({
          data: l.data as any,
          borderColor: l.color,
          backgroundColor: l.color,
          borderWidth: 3,
          pointRadius: 0,
          fill: false,
          spanGaps: false,
          tension: 0,
          borderJoinStyle: 'bevel' as const,
          borderCapStyle: 'butt' as const,
        })),
      },
      options: {
        animation: false,
        responsive: false,
        devicePixelRatio: 2,
        events: [],
        layout: {
          padding: {
            left: 0,
            top: p.area.T - p.top,
            right: p.left + p.width - p.area.R,
            bottom: p.top + p.height - X_AXIS_H - p.area.B,
          },
        },
        plugins: { legend: { display: false }, tooltip: { enabled: false }, title: { display: false } },
        scales: {
          x: {
            type: 'linear',
            min: 0,
            max: xMax,
            afterBuildTicks: (s: any) => {
              s.ticks = xTickValues.map((v) => ({ value: v }));
            },
            afterFit: (s: any) => {
              s.height = X_AXIS_H;
            },
            ticks: { color: '#000', font: tickFont, padding: 3.6, maxRotation: 0, autoSkip: false },
            grid: { display: true, drawOnChartArea: false, drawTicks: true, tickLength: 10.3, tickWidth: 2.5, tickColor: '#000' },
            border: { display: false },
          },
          y: {
            type: 'linear',
            min: 0,
            max: p.yMax,
            afterBuildTicks: (s: any) => {
              s.ticks = yTickValues.map((v) => ({ value: v }));
            },
            afterFit: (s: any) => {
              s.width = p.area.L - p.left;
            },
            ticks: { display: p.showY, color: '#000', font: tickFont, padding: 3 },
            grid: { display: p.showY, drawOnChartArea: false, drawTicks: true, tickLength: 12, tickWidth: 2.5, tickColor: '#000' },
            border: { display: false },
          },
        },
      } as any,
      plugins: [makeFramePlugin({ fill: p.fill, showY: p.showY })],
    });
    return () => chart.destroy();
  }, []);
  return (
    <canvas
      ref={ref}
      width={p.width}
      height={p.height}
      style={{ position: 'absolute', left: p.left, top: p.top, width: p.width, height: p.height }}
    />
  );
}

const serif = 'Liberation Serif, Times New Roman, serif';

export default function App() {
  const tg5Lines = [
    { data: seriesFromRange(tg5Days1999, tg5High1999, tg5Low1999), color: C1999 },
    { data: seriesFromRange(tg5Days1997, tg5High1997, tg5Low1997), color: C1997 },
    { data: seriesFromValues(tg5Days1998, tg5Sal1998), color: C1998 },
  ];
  const tg6Lines = [
    { data: seriesFromRange(tg6Days1999, tg6High1999, tg6Low1999), color: C1999 },
    { data: seriesFromRange(tg6Days1997, tg6High1997, tg6Low1997), color: C1997 },
    { data: seriesFromRange(tg6Days1998, tg6High1998, tg6Low1998), color: C1998 },
  ];
  const cckLines = [{ data: seriesFromRange(cckDays1999, cckHigh1999, cckLow1999), color: C1999 }];

  const innerH = 1416 / SY;
  return (
    <div style={{ position: 'absolute', left: 0, top: 0, width: 1144, height: 1416, overflow: 'hidden', background: PAGE_GREEN }}>
      <div
        style={{
          position: 'absolute',
          left: 0,
          top: 0,
          width: 1200,
          height: innerH,
          transform: `scaleY(${SY})`,
          transformOrigin: '0 0',
        }}
      >
        <Panel left={0} top={0} width={600} height={600} area={{ L: 84, T: 64.7, R: 553, B: 534.5 }} yMax={tg5YMax} showY={true} fill="#ffffff" lines={tg5Lines} />
        <Panel left={592} top={0} width={600} height={600} area={{ L: 677, T: 64.7, R: 1146, B: 534.5 }} yMax={tg6YMax} showY={true} fill="#ffffff" lines={tg6Lines} />
        <Panel left={0} top={600} width={600} height={600} area={{ L: 84, T: 665.5, R: 553, B: 1124.6 }} yMax={cckYMax} showY={false} fill={null} lines={cckLines} />
        <svg
          width={1200}
          height={innerH}
          style={{ position: 'absolute', left: 0, top: 0, pointerEvents: 'none' }}
          fontFamily={serif}
        >
          <text x={90} y={34.5} fontSize={32} fill="#000">Canal</text>
          <text x={88} y={635.3} fontSize={32} fill="#000">Ocean</text>

          <text x={543} y={94.2} fontSize={22.5} textAnchor="end" fill="#000">TG5</text>
          <text x={1140} y={94.2} fontSize={22.5} textAnchor="end" fill="#000">TG6</text>
          <text x={546.7} y={691.6} fontSize={22.5} textAnchor="end" fill="#000">CCk</text>
          <text x={1137} y={695} fontSize={22.5} textAnchor="end" fill="#000">TG9</text>

          <text transform="translate(28.6,301.7) rotate(-90)" fontSize={27.5} textAnchor="middle" fill="#000">Salinity (psu)</text>
          <text transform="translate(28.6,910.8) rotate(-90)" fontSize={27.5} textAnchor="middle" fill="#000">Salinity (psu)</text>

          <text x={316} y={1207.5} fontSize={27.5} textAnchor="middle" fill="#000">Julian day</text>
          <text x={906} y={1205} fontSize={27.5} textAnchor="middle" fill="#000">Julian day</text>

          <rect x={839} y={1017.2} width={288} height={87.1} fill="none" stroke="#000" strokeWidth={2.6} />
          <line x1={871} y1={1042.2} x2={908} y2={1042.2} stroke={C1996} strokeWidth={2.5} />
          <text x={920} y={1051.1} fontSize={22.5} fill="#000">{legendYears[0]}</text>
          <line x1={874} y1={1081.3} x2={911} y2={1081.3} stroke={C1997} strokeWidth={2.5} />
          <text x={920} y={1086.8} fontSize={22.5} fill="#000">{legendYears[1]}</text>
          <line x1={996} y1={1042.2} x2={1033} y2={1042.2} stroke={C1998} strokeWidth={2.5} />
          <text x={1050.7} y={1051.1} fontSize={22.5} fill="#000">{legendYears[2]}</text>
          <line x1={996} y1={1079} x2={1033} y2={1079} stroke={C1999} strokeWidth={2.5} />
          <text x={1050.7} y={1084.8} fontSize={22.5} fill="#000">{legendYears[3]}</text>
        </svg>
      </div>
    </div>
  );
}
